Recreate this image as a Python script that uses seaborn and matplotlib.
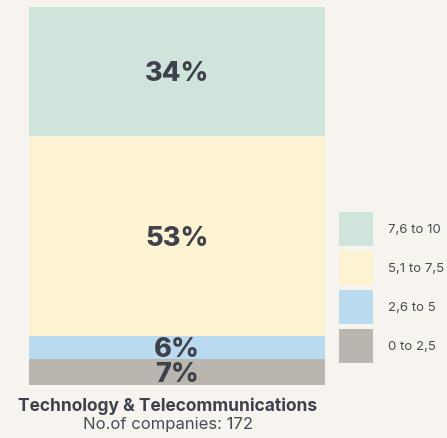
import numpy as np
import pandas as pd
import seaborn as sns
import matplotlib.pyplot as plt
from matplotlib.patches import Patch
from matplotlib import font_manager as fm

# data
bands = ["0 to 2,5", "2,6 to 5", "5,1 to 7,5", "7,6 to 10"]
shares = [7, 6, 53, 34]
band_colors = ["#bab5ae", "#badbef", "#fdf2d2", "#cfe5dc"]
sector = "Technology & Telecommunications"
n_companies = 172

bg = "#f7f4ef"
txt = "#3f414b"

sns.set_theme(style="white")

# pick the first family that really has a bold face
bold_family = "DejaVu Sans"
for fam in ["Inter", "Roboto", "Open Sans", "Lato", "Noto Sans"]:
    try:
        path = fm.findfont(fm.FontProperties(family=fam, weight="bold"), fallback_to_default=False)
        if "bold" in path.lower():
            bold_family = fam
            break
    except Exception:
        pass
plt.rcParams['font.family'] = [bold_family, 'DejaVu Sans']

fig = plt.figure(figsize=(4.47, 4.38), dpi=100, facecolor=bg)
W, H = 447, 438
ax = fig.add_axes([29 / W, (H - 385) / H, (325 - 29) / W, (385 - 7) / H])
ax.set_facecolor(bg)

df = pd.DataFrame({"band": bands, "share": shares, "sector": sector})
bottom = 0
for i, row in df.iterrows():
    sns.barplot(x=[0], y=[row["share"]], bottom=bottom, color=band_colors[i],
                width=1.0, saturation=1, ax=ax, linewidth=0)
    ax.annotate(f"{row['share']}%", (0, bottom + row["share"] / 2),
                xytext=(0, -3), textcoords="offset pixels",
                ha="center", va="center", fontsize=19.5, fontweight="heavy", color=txt)
    bottom += row["share"]

ax.set_xlim(-0.5, 0.5)
ax.set_ylim(0, 100)
ax.set_xticks([])
ax.set_yticks([])
ax.set_xlabel("")
ax.set_ylabel("")
sns.despine(ax=ax, left=True, bottom=True)

# legend, top band first
handles = [Patch(facecolor=c, edgecolor="none", label=b) for b, c in zip(bands, band_colors)]
fig.legend(handles=handles[::-1], loc="upper left", bbox_to_anchor=(339 / W, 1 - 212 / H),
           frameon=False, fontsize=9.5, handlelength=2.58, handleheight=3.59,
           handletextpad=1.1, labelspacing=0.38, borderpad=0, borderaxespad=0,
           labelcolor="#4a4b55")

fig.text(168 / W, 1 - 406 / H, sector, ha="center", va="center",
         fontsize=12.5, fontweight="bold", color=txt)
fig.text(168 / W, 1 - 424 / H, f"No.of companies: {n_companies}", ha="center", va="center",
         fontsize=12, color="#4a4b55")

fig.savefig("out.png", dpi=100, facecolor=bg)
